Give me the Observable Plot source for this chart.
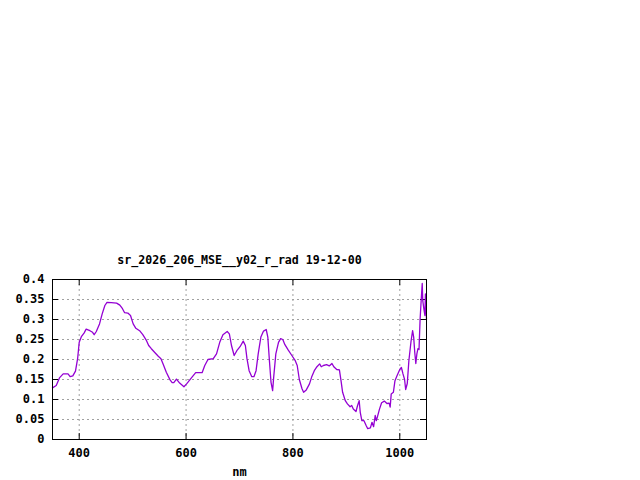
<!DOCTYPE html>
<html>
<head>
<meta charset="utf-8">
<script src="https://cdn.jsdelivr.net/npm/d3@7"></script>
<script src="https://cdn.jsdelivr.net/npm/@observablehq/plot@0.6"></script>
<style>
  html, body { margin: 0; padding: 0; background: #fff; }
  svg { display: block; }
</style>
</head>
<body>
<div id="chart"></div>
<script>
const titleText = "sr_2026_206_MSE__y02_r_rad 19-12-00";
const xLabel = "nm";
const xTicks = [400, 600, 800, 1000];
const yTicks = [0, 0.05, 0.1, 0.15, 0.2, 0.25, 0.3, 0.35, 0.4];
const yTickLabels = ["0", "0.05", "0.1", "0.15", "0.2", "0.25", "0.3", "0.35", "0.4"];

const wavelength = [350,357,363,370,379,383,388,393,397,400,404,409,413,420,425,428,432,438,443,448,452,460,470,476,481,485,491,496,501,506,513,519,526,530,535,541,548,553,557,563,570,574,577,582,588,596,601,610,618,630,635,641,651,657,663,669,677,681,685,690,695,701,707,711,714,718,723,727,731,735,740,745,750,753,756,759,762,764,768,773,777,781,785,791,798,804,808,812,817,820,825,831,835,840,845,850,853,857,863,868,873,877,882,887,890,893,898,902,907,910,913,918,921,924,926,929,933,937,940,945,948,951,954,956,958,962,966,971,976,980,982,984,988,991,995,1000,1003,1006,1009,1011,1014,1017,1021,1024,1026,1028,1030,1032,1034,1036,1038,1040,1042,1043,1045,1047,1048,1050];
const radiance = [0.129,0.135,0.154,0.164,0.164,0.157,0.159,0.171,0.202,0.243,0.257,0.266,0.276,0.272,0.268,0.262,0.270,0.289,0.314,0.335,0.343,0.342,0.341,0.336,0.327,0.317,0.316,0.310,0.289,0.278,0.272,0.262,0.247,0.235,0.227,0.218,0.208,0.202,0.189,0.168,0.149,0.142,0.142,0.151,0.141,0.132,0.139,0.154,0.167,0.167,0.185,0.200,0.202,0.214,0.243,0.262,0.270,0.264,0.235,0.210,0.222,0.232,0.246,0.235,0.202,0.172,0.157,0.157,0.172,0.214,0.256,0.271,0.275,0.256,0.197,0.143,0.122,0.156,0.214,0.243,0.252,0.250,0.237,0.224,0.210,0.198,0.185,0.150,0.127,0.118,0.124,0.139,0.156,0.172,0.182,0.189,0.182,0.185,0.187,0.184,0.190,0.181,0.175,0.174,0.147,0.118,0.097,0.089,0.082,0.085,0.076,0.070,0.085,0.097,0.068,0.047,0.047,0.035,0.027,0.029,0.043,0.032,0.060,0.047,0.056,0.076,0.092,0.096,0.090,0.091,0.081,0.114,0.118,0.147,0.160,0.175,0.180,0.164,0.150,0.125,0.140,0.197,0.245,0.272,0.256,0.218,0.190,0.214,0.227,0.225,0.300,0.347,0.390,0.347,0.327,0.310,0.364,0.300];

const data = wavelength.map((w, i) => ({w, v: radiance[i]}));

const W = 640, H = 480;
const mL = 52, mR = 214, mT = 279, mB = 41;
const plotW = W - mL - mR, plotH = H - mT - mB;
const font = "'DejaVu Sans Mono', 'Liberation Mono', monospace";

const chart = Plot.plot({
  width: W,
  height: H,
  marginLeft: mL,
  marginRight: mR,
  marginTop: mT,
  marginBottom: mB,
  style: {fontFamily: font, fontSize: "12px", fontWeight: "bold", color: "#000", background: "#fff", overflow: "visible"},
  x: {domain: [350, 1050]},
  y: {domain: [0, 0.4]},
  marks: [
    Plot.ruleY(yTicks.slice(1, -1), {stroke: "#a0a0a0", strokeDasharray: "2,3", strokeWidth: 1}),
    Plot.ruleX(xTicks, {stroke: "#a0a0a0", strokeDasharray: "2,3", strokeWidth: 1}),
    Plot.ruleY(yTicks, {stroke: "#000", insetRight: plotW - 6}),
    Plot.ruleY(yTicks, {stroke: "#000", insetLeft: plotW - 6}),
    Plot.ruleX(xTicks, {stroke: "#000", insetTop: plotH - 6}),
    Plot.ruleX(xTicks, {stroke: "#000", insetBottom: plotH - 6}),
    Plot.axisY({ticks: yTicks, tickFormat: (d) => yTickLabels[yTicks.indexOf(d)], tickSize: 0, tickPadding: 8, label: null, fontSize: 12, fontWeight: "bold", fill: "#000"}),
    Plot.axisX({ticks: xTicks, tickFormat: d => String(d), tickSize: 0, tickPadding: 9, label: null, fontSize: 12, fontWeight: "bold", fill: "#000"}),
    Plot.line(data, {x: "w", y: "v", stroke: "#9400d3", strokeWidth: 1.3}),
    Plot.frame({stroke: "#000", strokeWidth: 1}),
    Plot.text([titleText], {frameAnchor: "top", dy: -24, text: d => d, fontSize: 11.6, fontWeight: "bold", fill: "#000"}),
    Plot.text([xLabel], {frameAnchor: "bottom", dy: 36, text: d => d, fontSize: 12, fontWeight: "bold", fill: "#000"})
  ]
});
document.getElementById("chart").appendChild(chart);
</script>
</body>
</html>
